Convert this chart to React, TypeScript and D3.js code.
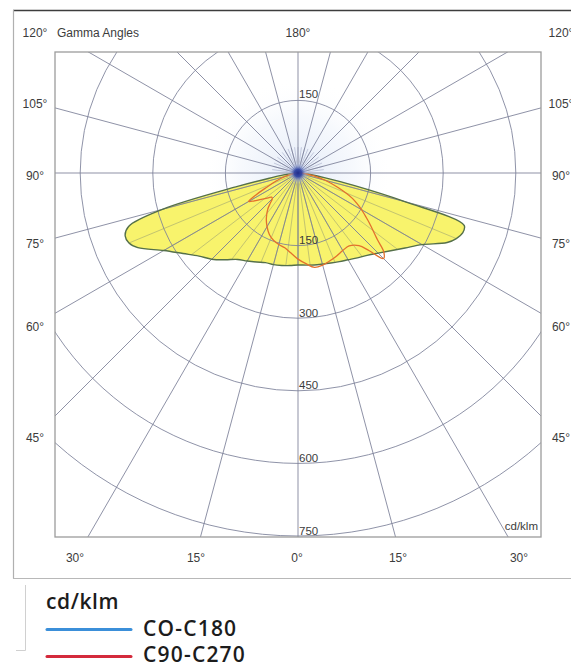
import React from 'react';
import * as d3 from 'd3';

// ---- data (cd/klm) ----
const GAMMA_C0_C180 = [0, 5, 10, 15, 20, 25, 30, 35, 40, 45, 50, 55, 60, 65, 67.5, 70, 72.5, 75, 77.5, 80, 82.5, 85, 87.5, 90];
const C0 = [190, 191, 193, 195, 198, 202, 207, 214, 222, 234, 250, 270, 296, 340, 354, 362, 360, 230, 118, 55, 28, 14, 7, 3];
const C180 = [190, 192, 194, 196, 197, 203, 210, 218, 234, 252, 267, 290, 320, 365, 378, 380, 367, 290, 128, 55, 30, 15, 8, 3];

const GAMMA_C90_C270 = [0, 5, 10, 15, 20, 25, 30, 35, 40, 42.5, 45, 47.5, 50, 55, 57.5, 60, 62.5, 65, 70, 75, 80, 85, 90];
const C90 = [178, 188, 198, 197, 193, 189, 185, 184, 196, 218, 250, 240, 214, 180, 165, 152, 138, 124, 88, 58, 32, 14, 3];
const C270 = [178, 166, 157, 153, 148, 140, 128, 114, 97, 85, 75, 74, 80, 96, 107, 118, 98, 75, 48, 28, 15, 6, 2];

const RINGS = [150, 300, 450, 600, 750];
const SIDE_ANGLE_LABELS = ['120°', '105°', '90°', '75°', '60°', '45°'];
const BOTTOM_ANGLE_LABELS = ['30°', '15°', '0°', '15°', '30°'];
const LEGEND_TITLE = 'cd/klm';
const LEGEND_SERIES = ['CO-C180', 'C90-C270'];

// ---- layout ----
const W = 571;
const H = 664;
const CX = 298;
const CY = 173;
const RX0 = 55, RY0 = 52, RX1 = 541, RY1 = 537;
const SIDE_LABEL_Y = [37, 108, 180, 248, 331, 442];
const BOTTOM_LABEL_X = [75, 196, 297, 398, 519];
const FONT = "'Liberation Sans', Arial, sans-serif";

const rScale = d3.scaleLinear().domain([0, 750]).range([0, 363]);
const rad = (g: number) => (g * Math.PI) / 180;

function curvePoints(gammas: number[], right: number[], left: number[]): [number, number][] {
  const pts: [number, number][] = [];
  gammas.forEach((g, i) => pts.push([Math.PI - rad(g), rScale(right[i])]));
  for (let i = gammas.length - 1; i >= 1; i--) pts.push([Math.PI + rad(gammas[i]), rScale(left[i])]);
  return pts;
}

const radial = d3
  .lineRadial<[number, number]>()
  .angle((d) => d[0])
  .radius((d) => d[1])
  .curve(d3.curveCatmullRomClosed.alpha(0.5));

export default function App() {
  const yellowPath = radial(curvePoints(GAMMA_C0_C180, C0, C180)) || '';
  const redPath = radial(curvePoints(GAMMA_C90_C270, C90, C270)) || '';

  const interpRight = d3.scaleLinear().domain(GAMMA_C0_C180).range(C0);
  const interpLeft = d3.scaleLinear().domain(GAMMA_C0_C180).range(C180);

  const spokes = d3.range(0, 360, 15);
  const fineRays = d3.range(0, 90, 7.5);
  const upperShort = d3.range(97.5, 270, 7.5);

  const gridStroke = '#7c8199';

  return (
    <svg width={W} height={H} style={{ position: 'absolute', left: 0, top: 0, background: '#fff' }}>
      <defs>
        <clipPath id="plotClip">
          <rect x={RX0} y={RY0} width={RX1 - RX0} height={RY1 - RY0} />
        </clipPath>
        <radialGradient id="tint" cx="0.5" cy="0.5" r="0.5">
          <stop offset="0" stopColor="#dfe8f7" stopOpacity="0.9" />
          <stop offset="0.6" stopColor="#eef3fb" stopOpacity="0.5" />
          <stop offset="1" stopColor="#ffffff" stopOpacity="0" />
        </radialGradient>
        <radialGradient id="glow" cx="0.5" cy="0.5" r="0.5">
          <stop offset="0" stopColor="#1f2c8c" stopOpacity="1" />
          <stop offset="0.35" stopColor="#2f44a8" stopOpacity="0.9" />
          <stop offset="0.65" stopColor="#8fa2e0" stopOpacity="0.45" />
          <stop offset="1" stopColor="#dfe6f8" stopOpacity="0" />
        </radialGradient>
      </defs>

      {/* outer frame */}
      <line x1={13} y1={10.5} x2={W} y2={10.5} stroke="#3d3d3d" strokeWidth={1.6} />
      <line x1={13.5} y1={10} x2={13.5} y2={578.5} stroke="#b0b0b0" strokeWidth={1.2} />
      <line x1={13} y1={578.5} x2={W} y2={578.5} stroke="#b8b8b8" strokeWidth={1.2} />

      <g clipPath="url(#plotClip)">
        <circle cx={CX} cy={CY} r={95} fill="url(#tint)" />
        <g transform={`translate(${CX},${CY})`}>
          <path d={yellowPath} fill="#f8f36c" stroke="none" />
          {fineRays.map((g) => (
            <g key={'fr' + g}>
              <line x1={0} y1={0} x2={rScale(interpRight(g)) * Math.sin(rad(g))} y2={rScale(interpRight(g)) * Math.cos(rad(g))} stroke="#8a9274" strokeWidth={0.8} opacity={0.6} />
              <line x1={0} y1={0} x2={-rScale(interpLeft(g)) * Math.sin(rad(g))} y2={rScale(interpLeft(g)) * Math.cos(rad(g))} stroke="#8a9274" strokeWidth={0.8} opacity={0.6} />
            </g>
          ))}
          {upperShort.map((g) => (
            <line key={'us' + g} x1={0} y1={0} x2={26 * Math.sin(rad(g))} y2={26 * Math.cos(rad(g))} stroke="#8d93b8" strokeWidth={0.8} opacity={0.55} />
          ))}
          {RINGS.map((v) => (
            <circle key={'ring' + v} cx={0} cy={0} r={rScale(v)} fill="none" stroke={gridStroke} strokeWidth={0.95} opacity={0.9} />
          ))}
          {spokes.map((g) => (
            <line key={'sp' + g} x1={0} y1={0} x2={800 * Math.sin(rad(g))} y2={800 * Math.cos(rad(g))} stroke={gridStroke} strokeWidth={0.95} opacity={0.9} />
          ))}
          <path d={yellowPath} fill="none" stroke="#55704a" strokeWidth={1.4} />
          <path d={redPath} fill="none" stroke="#e3702c" strokeWidth={1.3} />
          <circle cx={0} cy={0} r={11} fill="url(#glow)" />
        </g>
      </g>

      <rect x={RX0} y={RY0} width={RX1 - RX0} height={RY1 - RY0} fill="none" stroke="#9c9c9c" strokeWidth={1.3} />

      {/* angle labels */}
      <g fontFamily={FONT} fontSize={12} fill="#3c3c3c">
        {SIDE_ANGLE_LABELS.map((t, i) => (
          <text key={'l' + i} x={35} y={SIDE_LABEL_Y[i]} textAnchor="middle">{t}</text>
        ))}
        {SIDE_ANGLE_LABELS.map((t, i) => (
          <text key={'r' + i} x={561} y={SIDE_LABEL_Y[i]} textAnchor="middle">{t}</text>
        ))}
        {BOTTOM_ANGLE_LABELS.map((t, i) => (
          <text key={'b' + i} x={BOTTOM_LABEL_X[i]} y={562} textAnchor="middle">{t}</text>
        ))}
        <text x={57} y={37}>Gamma Angles</text>
        <text x={CX} y={37} textAnchor="middle">180°</text>
        <text x={RX1 - 3} y={530} textAnchor="end" fontSize={11.5}>cd/klm</text>
        {/* ring labels */}
        <text x={CX + 1} y={CY - rScale(RINGS[0]) - 2} fontSize={11.5}>{RINGS[0]}</text>
        {RINGS.map((v) => (
          <text key={'rl' + v} x={CX + 1} y={CY + rScale(v) - 1.5} fontSize={11.5}>{v}</text>
        ))}
      </g>

      {/* legend */}
      <line x1={25.5} y1={585} x2={25.5} y2={650.5} stroke="#d0d0d0" strokeWidth={1} />
      <line x1={16} y1={650.5} x2={25.5} y2={650.5} stroke="#d0d0d0" strokeWidth={1} />
      <g fontFamily="'Open Sans', 'Noto Sans', sans-serif" fontWeight={600} fontSize={21} fill="#1c1c1c">
        <text x={46} y={609} letterSpacing={0.6}>{LEGEND_TITLE}</text>
        <line x1={47} y1={629.5} x2={131} y2={629.5} stroke="#3b8fd9" strokeWidth={3} strokeLinecap="round" />
        <text x={143} y={636} letterSpacing={1.2}>{LEGEND_SERIES[0]}</text>
        <line x1={47} y1={656.5} x2={131} y2={656.5} stroke="#d42a3c" strokeWidth={3} strokeLinecap="round" />
        <text x={143} y={662} letterSpacing={1.2}>{LEGEND_SERIES[1]}</text>
      </g>
    </svg>
  );
}
